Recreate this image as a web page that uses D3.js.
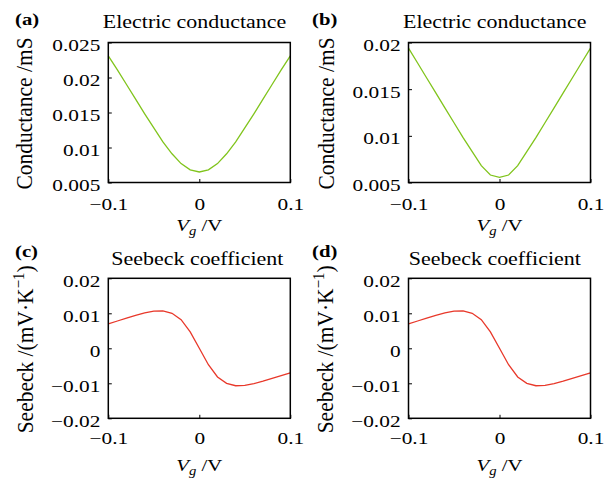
<!DOCTYPE html>
<html lang="en">
<head>
<meta charset="utf-8">
<title>Conductance and Seebeck</title>
<script src="https://d3js.org/d3.v7.min.js"></script>
<style>
  body { margin: 0; background: #fff; }
  text { font-family: "Liberation Serif", "Times New Roman", serif; fill: #000; }
</style>
</head>
<body>
<div id="chart"></div>
<script>
// gate voltage samples (V)
const vg = [-0.1, -0.09, -0.08, -0.07, -0.06, -0.05, -0.04, -0.03, -0.02, -0.01, 0,
            0.01, 0.02, 0.03, 0.04, 0.05, 0.06, 0.07, 0.08, 0.09, 0.1];

// conductance, mS
const condA = [0.0231, 0.0211, 0.0190, 0.0169, 0.0148, 0.0128, 0.0108, 0.0091, 0.0077, 0.0068, 0.0065,
               0.0068, 0.0077, 0.0091, 0.0108, 0.0128, 0.0148, 0.0169, 0.0190, 0.0211, 0.0231];
const condB = [0.0194, 0.0178, 0.0162, 0.0146, 0.0130, 0.0114, 0.0098, 0.0083, 0.0068, 0.0058, 0.00555,
               0.0058, 0.0068, 0.0083, 0.0098, 0.0114, 0.0130, 0.0146, 0.0162, 0.0178, 0.0194];

// seebeck coefficient, mV/K
const seebeckC = [0.0070, 0.0078, 0.0086, 0.0094, 0.0101, 0.0106, 0.0107, 0.0100, 0.0082, 0.0047, 0,
                  -0.0047, -0.0082, -0.0100, -0.0107, -0.0106, -0.0101, -0.0094, -0.0086, -0.0078, -0.0070];
const seebeckD = [0.0070, 0.0078, 0.0086, 0.0094, 0.0101, 0.0106, 0.0107, 0.0100, 0.0082, 0.0047, 0,
                  -0.0047, -0.0082, -0.0100, -0.0107, -0.0106, -0.0101, -0.0094, -0.0086, -0.0078, -0.0070];

const xTicks = [-0.1, 0, 0.1];
const condATicks = [0.005, 0.01, 0.015, 0.02, 0.025];
const condBTicks = [0.005, 0.01, 0.015, 0.02];
const seebeckTicks = [-0.02, -0.01, 0, 0.01, 0.02];

const fmt = d => d === 0 ? "0" : (d < 0 ? "\u2212" : "") + String(Math.abs(d));

const SX = 1.22; // glyphs in the reference are wider than tall

const panels = [
  { tag: "(a)", title: "Electric conductance", ylab: "cond", y: condA, yDom: [0.005, 0.025], yTicks: condATicks,
    color: "#80c41c", left: 108.3, top: 42.5, titleX: 194.5, titleY: 28, tagX: 15, tagY: 25, ylabX: 31.5, xPad: 15, xlabY: 231 },
  { tag: "(b)", title: "Electric conductance", ylab: "cond", y: condB, yDom: [0.005, 0.02], yTicks: condBTicks,
    color: "#80c41c", left: 408.5, top: 42.5, titleX: 494.7, titleY: 28, tagX: 312, tagY: 25, ylabX: 333.5, xPad: 15, xlabY: 231 },
  { tag: "(c)", title: "Seebeck coefficient", ylab: "seebeck", y: seebeckC, yDom: [-0.02, 0.02], yTicks: seebeckTicks,
    color: "#e8382a", left: 108.3, top: 278.3, titleX: 197.3, titleY: 265, tagX: 15, tagY: 257, ylabX: 33, xPad: 13, xlabY: 471 },
  { tag: "(d)", title: "Seebeck coefficient", ylab: "seebeck", y: seebeckD, yDom: [-0.02, 0.02], yTicks: seebeckTicks,
    color: "#e8382a", left: 408.5, top: 278.3, titleX: 494.8, titleY: 265, tagX: 312, tagY: 257, ylabX: 333, xPad: 13, xlabY: 471 }
];

const W = 182, H = 140;

const svg = d3.select("#chart").append("svg")
  .attr("width", 612).attr("height", 481);

panels.forEach(p => {
  const x = d3.scaleLinear().domain([-0.1, 0.1]).range([0, W]);
  const y = d3.scaleLinear().domain(p.yDom).range([H, 0]);

  const g = svg.append("g").attr("transform", `translate(${p.left},${p.top})`);

  // curve
  const line = d3.line().x((d, i) => x(vg[i])).y(d => y(d));
  g.append("path")
    .datum(p.y)
    .attr("d", line)
    .attr("fill", "none")
    .attr("stroke", p.color)
    .attr("stroke-width", 1.3);

  // left axis, ticks pointing inward
  const ya = g.append("g")
    .call(d3.axisLeft(y).tickValues(p.yTicks).tickFormat(fmt).tickSize(-3.5).tickPadding(6.5));
  ya.selectAll("text")
    .attr("font-size", 17.5)
    .attr("dy", "0.45em")
    .attr("transform", `scale(${SX},1)`);

  // bottom axis
  const xa = g.append("g")
    .attr("transform", `translate(0,${H})`)
    .call(d3.axisBottom(x).tickValues(xTicks).tickFormat(fmt).tickSize(-3.5).tickPadding(p.xPad));
  xa.selectAll("text")
    .attr("font-size", 17.5)
    .attr("transform", `scale(${SX},1)`);

  [ya, xa].forEach(a => {
    a.select(".domain").remove();
    a.selectAll("line").attr("stroke", "#000").attr("stroke-width", 1);
  });

  // frame
  g.append("rect")
    .attr("width", W).attr("height", H)
    .attr("fill", "none").attr("stroke", "#000").attr("stroke-width", 1.5);

  // title
  svg.append("text")
    .attr("transform", `translate(${p.titleX},${p.titleY}) scale(${SX},1)`)
    .attr("text-anchor", "middle")
    .attr("font-size", 18)
    .text(p.title);

  // panel tag
  svg.append("text")
    .attr("transform", `translate(${p.tagX},${p.tagY}) scale(${SX},1)`)
    .attr("font-size", 17)
    .attr("font-weight", "bold")
    .text(p.tag);

  // x label: Vg /V
  const xl = svg.append("text")
    .attr("transform", `translate(${p.left + W / 2},${p.xlabY}) scale(${SX},1)`)
    .attr("text-anchor", "middle")
    .attr("font-size", 17);
  xl.append("tspan").attr("font-style", "italic").text("V");
  xl.append("tspan").attr("font-style", "italic").attr("font-size", 12).attr("dy", 4).text("g");
  xl.append("tspan").attr("dy", -4).text(" /V");

  // y label, rotated
  const yl = svg.append("text")
    .attr("transform", `translate(${p.ylabX},${p.top + H / 2 + 1}) scale(1.12,1) rotate(-90)`)
    .attr("text-anchor", "middle")
    .attr("font-size", 21.5);
  if (p.ylab === "cond") {
    yl.text("Conductance /mS");
  } else {
    yl.append("tspan").text("Seebeck /(mV\u00b7K");
    yl.append("tspan").attr("font-size", 15).attr("dy", -8).text("\u22121");
    yl.append("tspan").attr("dy", 8).text(")");
  }
});
</script>
</body>
</html>
